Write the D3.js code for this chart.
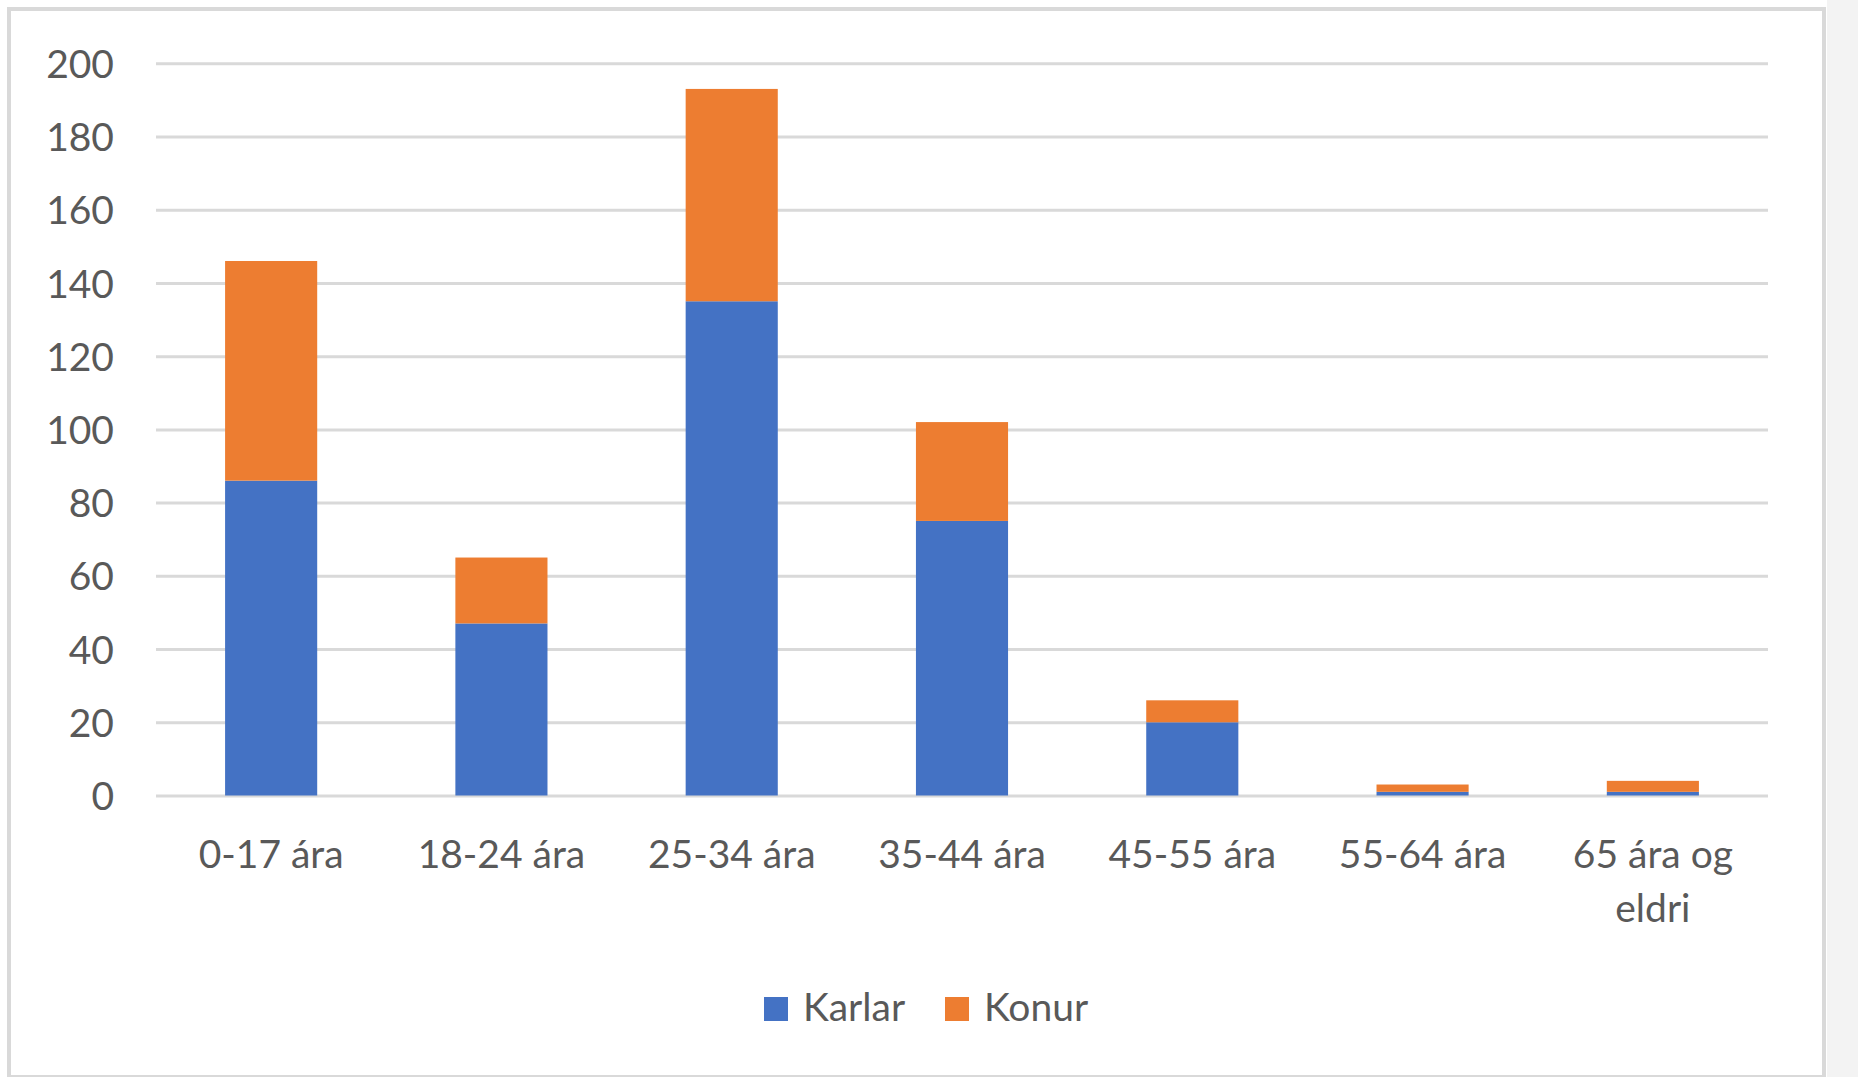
<!DOCTYPE html>
<html>
<head>
<meta charset="utf-8">
<title>Aldursdreifing</title>
<script src="https://cdn.jsdelivr.net/npm/d3@7"></script>
<style>
  html, body { margin: 0; padding: 0; background: #fff; }
  svg { display: block; }
  text { font-family: Lato, "Open Sans", sans-serif; fill: #595959; }
</style>
</head>
<body>
<svg id="chart" width="1858" height="1077"></svg>
<script>
// data
var categories = ['0-17 ára', '18-24 ára', '25-34 ára', '35-44 ára', '45-55 ára', '55-64 ára', '65 ára og eldri'];
var karlar = [86, 47, 135, 75, 20, 1, 1];
var konur  = [60, 18, 58, 27, 6, 2, 3];
var seriesNames = ['Karlar', 'Konur'];
var seriesColors = ['#4472C4', '#ED7D31'];
var yTicks = [0, 20, 40, 60, 80, 100, 120, 140, 160, 180, 200];

var svg = d3.select('#chart');
// plot edges (note: "top" is taken by window.top)
var plotLeft = 156, plotRight = 1768, plotTop = 63.3, plotBottom = 795.5;

// frame like the pasted excel chart
svg.append('rect').attr('x', 1827).attr('y', 0).attr('width', 31).attr('height', 1077).attr('fill', '#f3f3f3');
svg.append('rect')
  .attr('x', 9).attr('y', 9).attr('width', 1815).attr('height', 1068)
  .attr('fill', '#fff').attr('stroke', '#d9d9d9').attr('stroke-width', 4);

var x = d3.scaleBand().domain(categories).range([plotLeft, plotRight]).paddingInner(0.6).paddingOuter(0.3);
var y = d3.scaleLinear().domain([0, 200]).range([plotBottom, plotTop]);

// gridlines
var grid = svg.append('g').attr('transform', 'translate(' + plotLeft + ',0)')
  .call(d3.axisLeft(y).tickValues(yTicks).tickSize(-(plotRight - plotLeft)).tickFormat(''));
grid.select('.domain').remove();
grid.selectAll('line').attr('stroke', '#d9d9d9').attr('stroke-width', 3);

// y labels
var yAxis = svg.append('g').attr('transform', 'translate(' + plotLeft + ',0)')
  .call(d3.axisLeft(y).tickValues(yTicks).tickSize(0).tickPadding(42));
yAxis.select('.domain').remove();
yAxis.selectAll('text').attr('font-size', 39).attr('dy', '0.36em').attr('fill', '#595959');

// stacked bars
var rows = categories.map(function (c, i) { return { cat: c, Karlar: karlar[i], Konur: konur[i] }; });
var stacked = d3.stack().keys(seriesNames)(rows);

svg.append('g').selectAll('g')
  .data(stacked).enter()
  .append('g')
    .attr('fill', function (d, i) { return seriesColors[i]; })
  .selectAll('rect')
  .data(function (d) { return d; }).enter()
  .append('rect')
    .attr('x', function (d) { return x(d.data.cat); })
    .attr('width', x.bandwidth())
    .attr('y', function (d) { return y(d[1]); })
    .attr('height', function (d) { return y(d[0]) - y(d[1]); });

// x labels, the last one wraps onto two lines
var xAxis = svg.append('g').attr('transform', 'translate(0,' + plotBottom + ')')
  .call(d3.axisBottom(x).tickSize(0).tickPadding(45));
xAxis.select('.domain').remove();
xAxis.selectAll('text')
  .attr('font-size', 39).attr('fill', '#595959')
  .each(function (d) {
    if (d === '65 ára og eldri') {
      var t = d3.select(this).text(null);
      t.append('tspan').attr('x', 0).attr('dy', '0.71em').text('65 ára og');
      t.append('tspan').attr('x', 0).attr('dy', '1.37em').text('eldri');
    }
  });

// legend
var legendPos = [764, 945];
var legend = svg.append('g').selectAll('g')
  .data(seriesNames).enter()
  .append('g')
    .attr('transform', function (d, i) { return 'translate(' + legendPos[i] + ',997)'; });
legend.append('rect').attr('width', 24).attr('height', 24)
  .attr('fill', function (d, i) { return seriesColors[i]; });
legend.append('text').attr('x', 39).attr('y', 24).attr('font-size', 39)
  .text(function (d) { return d; });
</script>
</body>
</html>
